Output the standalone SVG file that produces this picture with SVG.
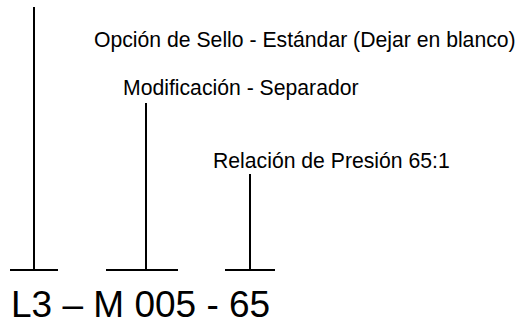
<svg xmlns="http://www.w3.org/2000/svg" width="519" height="322" viewBox="0 0 519 322">
<style>
.t{font-family:"Liberation Sans",Arial,sans-serif;fill:#000}
.s{font-size:21.2px}
.l{stroke:#000;stroke-width:2;fill:none}
</style>
<rect width="519" height="322" fill="#fff"/>
<g id="connectors">
<path class="l" d="M34 7V270M10 270H58"/>
<path class="l" d="M146 103V270M106 270H178"/>
<path class="l" d="M250 174V270M225 270H275"/>
</g>
<g id="label-sello"><text class="t s" x="94" y="47">Opción de Sello - Estándar (Dejar en blanco)</text></g>
<g id="label-mod"><text class="t s" x="123" y="95">Modificación - Separador</text></g>
<g id="label-rel"><text class="t s" x="213" y="168">Relación de Presión 65:1</text></g>
<g id="code"><text class="t" x="11" y="317" font-size="37">L3 – M 005 - 65</text></g>
</svg>
